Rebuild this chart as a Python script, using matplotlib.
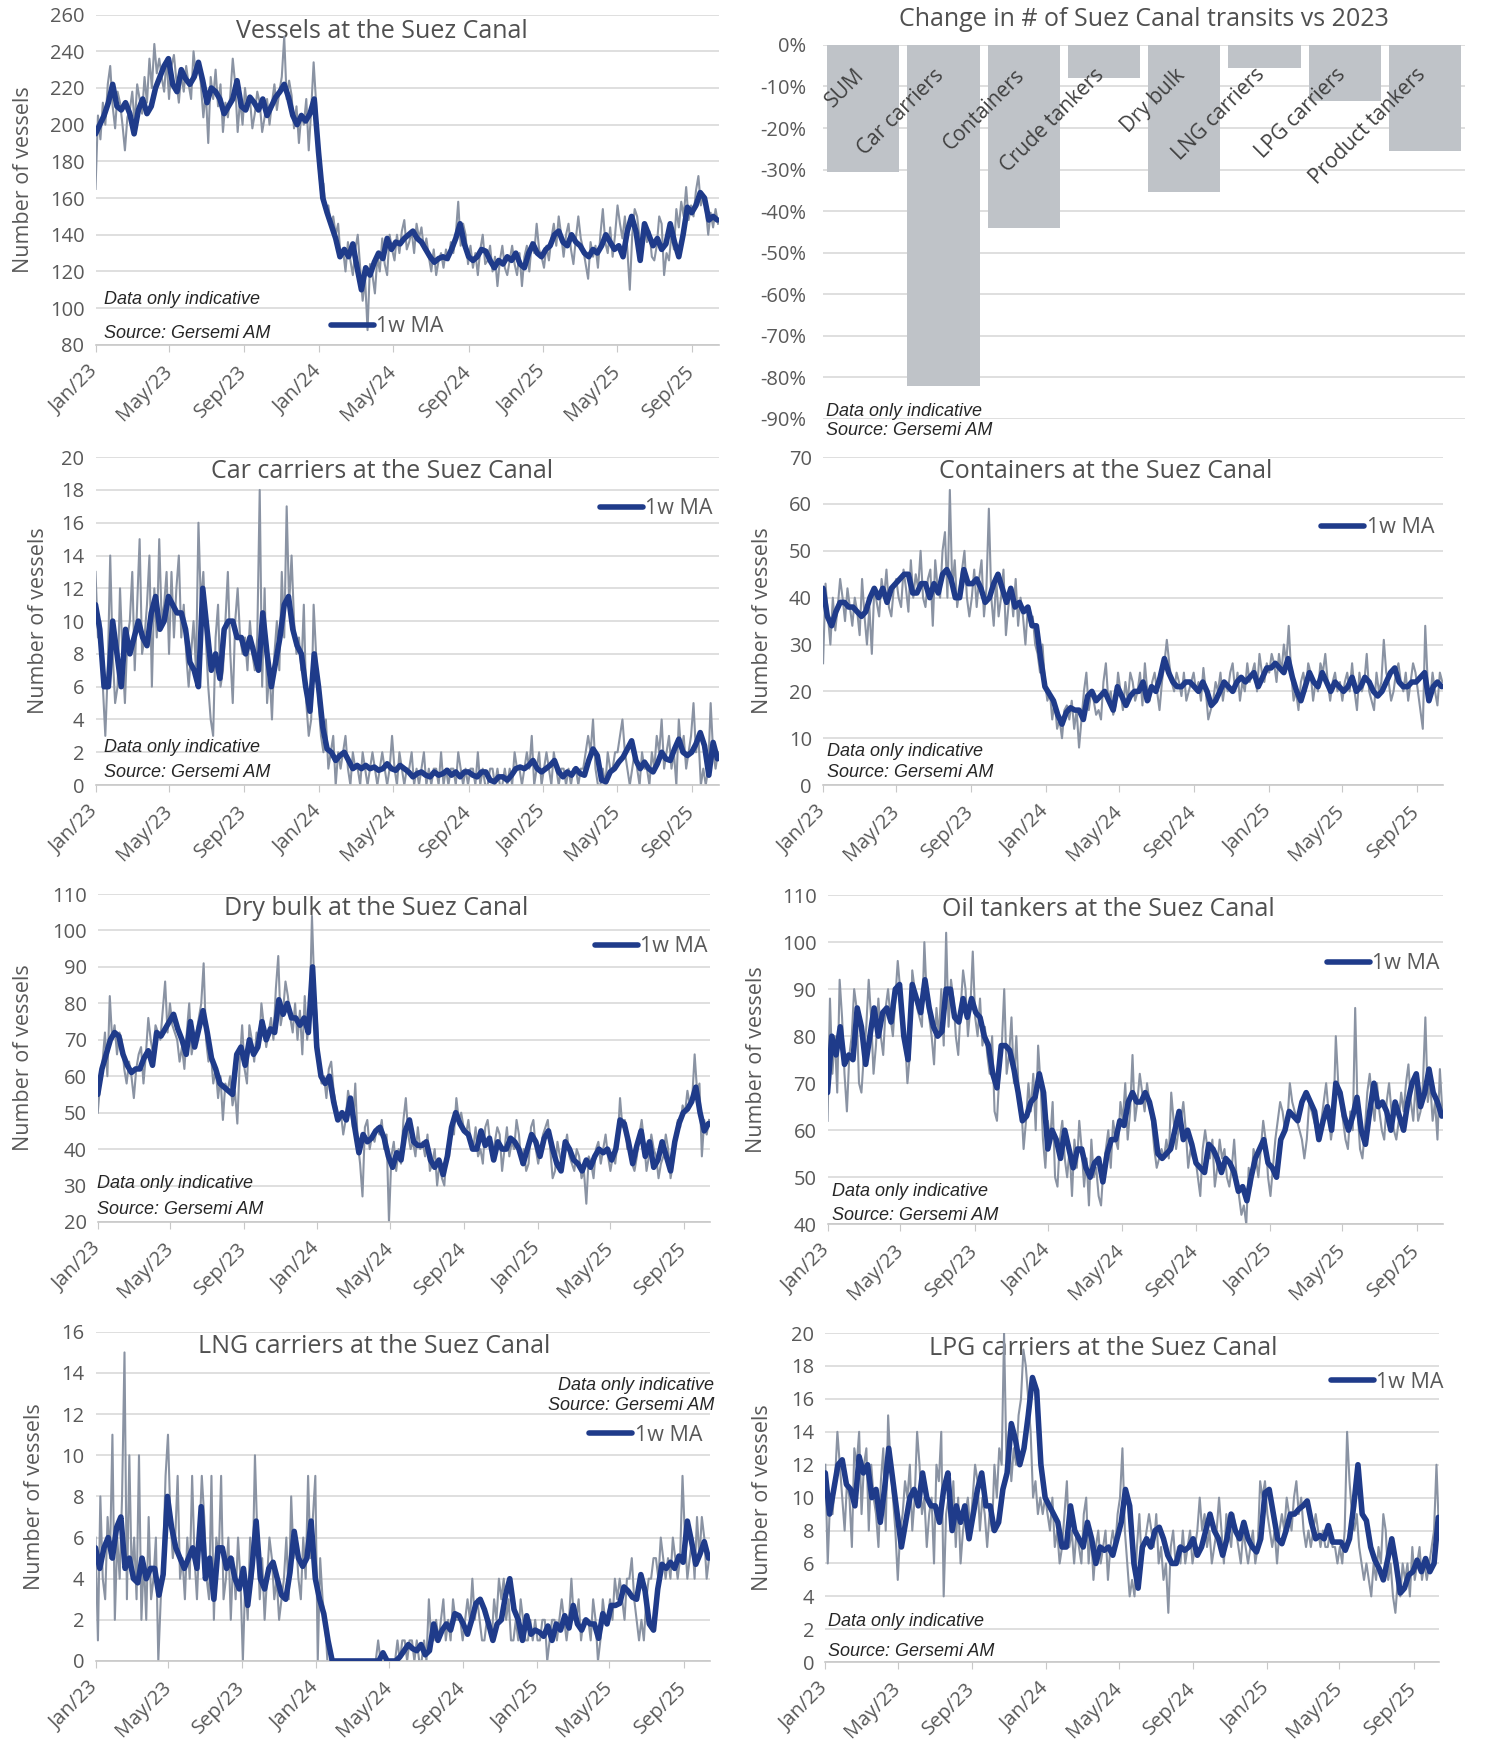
import matplotlib
matplotlib.use("Agg")
import matplotlib.pyplot as plt
import matplotlib.transforms as mtransforms
import numpy as np
import pandas as pd

plt.rcParams['font.family'] = ['Open Sans', 'DejaVu Sans']

GREY_LINE = '#8a93a3'
NAVY = '#1f3b8a'
GRID = '#d9d9d9'
TXT = '#595959'
BAR = '#bfc3c8'

# daily counts read off the charts, sampled every 4 days from 1 Jan 2023,
# and the 1w MA read off the charts once per week
START = '2023-01-01'
X_END = pd.Timestamp('2025-10-14')

tick_dates = ['2023-01-01', '2023-05-01', '2023-09-01', '2024-01-01', '2024-05-01',
              '2024-09-01', '2025-01-01', '2025-05-01', '2025-09-01']
tick_labels = ['Jan/23', 'May/23', 'Sep/23', 'Jan/24', 'May/24',
               'Sep/24', 'Jan/25', 'May/25', 'Sep/25']

vessels_all = [
    165, 205, 192, 212, 200, 222, 232, 210, 198, 218, 212, 200, 186, 204, 208, 218, 200, 222, 214, 206, 226, 212, 236, 220, 244, 228, 236, 226, 218, 236,
    214, 232, 238, 224, 212, 228, 218, 232, 222, 214, 240, 226, 234, 222, 204, 218, 190, 226, 214, 230, 210, 222, 196, 212, 204, 216, 236, 222, 196, 214, 200,
    220, 208, 214, 198, 206, 218, 212, 196, 204, 214, 200, 212, 222, 208, 218, 226, 248, 214, 224, 216, 198, 210, 190, 206, 200, 214, 186, 208, 234, 212,
    178, 164, 168, 152, 156, 146, 150, 140, 146, 128, 132, 120, 136, 126, 118, 132, 140, 122, 104, 116, 88, 124, 118, 108, 128, 120, 138, 124, 118, 140, 132,
    126, 140, 130, 142, 148, 132, 136, 142, 130, 146, 138, 144, 132, 138, 128, 120, 132, 118, 126, 130, 122, 132, 126, 136, 130, 140, 158, 134, 146, 140,
    124, 134, 122, 130, 118, 132, 140, 124, 126, 134, 120, 128, 112, 126, 134, 122, 118, 126, 134, 124, 118, 130, 112, 128, 134, 120, 136, 130, 146, 132, 128,
    122, 134, 126, 138, 146, 134, 150, 140, 128, 140, 146, 132, 124, 138, 150, 138, 132, 124, 116, 136, 128, 134, 122, 140, 154, 136, 130, 144, 128, 140,
    156, 146, 138, 150, 132, 110, 140, 154, 150, 138, 130, 144, 136, 142, 128, 126, 134, 150, 146, 118, 130, 126, 140, 132, 154, 144, 158, 150, 166, 148, 156,
    150, 164, 172, 156, 162, 154, 140, 152, 144, 154, 146,
]
vessels_all_ma = [
    195, 200, 205, 212, 222, 210, 208, 212, 206, 195, 208, 214, 206, 210, 220, 226, 232,
    236, 222, 218, 230, 225, 222, 226, 234, 224, 212, 220, 218, 214, 206, 210, 214, 224, 210,
    208, 215, 212, 208, 214, 205, 210, 215, 218, 222, 215, 205, 200, 205, 202, 206, 214,
    185, 160, 152, 145, 138, 128, 132, 128, 135, 122, 110, 122, 118, 125, 130, 127, 138,
    132, 136, 135, 138, 140, 142, 138, 136, 132, 128, 125, 127, 128, 127, 132, 138, 146, 135,
    128, 126, 128, 132, 131, 126, 122, 126, 124, 128, 126, 130, 124, 122, 130, 135, 130,
    128, 132, 134, 140, 142, 136, 134, 140, 136, 134, 130, 128, 132, 130, 134, 140, 136, 132,
    134, 128, 142, 150, 142, 126, 146, 140, 134, 138, 132, 135, 146, 136, 128, 140, 155,
    152, 156, 163, 160, 148, 150, 148,
]

car_carriers = [
    13, 9, 10, 6, 3, 7, 14, 8, 5, 6, 12, 8, 5, 9, 10, 13, 7, 11, 15, 8, 9, 11, 14, 6, 12, 9, 15, 10, 11, 13,
    8, 13, 9, 12, 14, 9, 11, 8, 6, 8, 10, 7, 16, 11, 13, 9, 6, 4, 3, 9, 11, 6, 7, 10, 13, 8, 5, 10, 12, 9, 8,
    9, 7, 10, 8, 7, 9, 18, 6, 12, 5, 7, 4, 8, 10, 7, 13, 9, 17, 11, 14, 10, 8, 9, 7, 11, 5, 3, 4, 11, 8,
    5, 3, 2, 4, 1, 2, 3, 0, 2, 1, 2, 3, 1, 0, 2, 1, 1, 0, 2, 1, 0, 1, 2, 1, 0, 1, 2, 1, 0, 1, 3,
    1, 0, 2, 1, 0, 1, 1, 2, 0, 1, 0, 1, 2, 0, 1, 0, 1, 1, 0, 2, 0, 1, 0, 1, 1, 0, 2, 1, 0, 1,
    0, 1, 1, 0, 2, 0, 1, 0, 0, 1, 1, 0, 1, 0, 0, 1, 0, 1, 0, 2, 1, 1, 0, 1, 2, 1, 3, 0, 1, 2, 0,
    1, 2, 1, 0, 2, 1, 0, 1, 1, 0, 1, 0, 1, 1, 0, 1, 1, 2, 3, 2, 4, 1, 0, 0, 1, 0, 2, 1, 1, 2,
    2, 3, 4, 2, 1, 0, 1, 2, 1, 0, 2, 1, 1, 0, 2, 1, 3, 2, 4, 1, 2, 3, 1, 2, 0, 4, 2, 3, 1, 2, 3,
    5, 2, 3, 0, 1, 0, 1, 5, 2, 1, 2,
]
car_carriers_ma = [
    11, 9.5, 6, 6, 10, 8, 6, 9.5, 8, 9, 10, 9, 8.5, 10.5, 11.5, 9.5, 10,
    11.5, 11, 10.5, 10.5, 9.5, 7.5, 7, 6, 12, 9.5, 7, 8, 6.5, 9.5, 10, 10, 9, 9,
    8, 9, 8, 7, 10.5, 8, 6, 7.5, 9, 11, 11.5, 9.5, 8.5, 8, 6, 4.5, 8,
    6, 3.5, 2.2, 2, 1.5, 1.8, 2, 1.5, 1, 1.2, 1, 1.2, 1, 1.1, 0.9, 1, 1.3,
    1, 0.9, 1.2, 1, 0.8, 0.5, 0.7, 0.8, 0.6, 0.5, 0.8, 0.6, 0.7, 0.9, 0.6, 0.8, 0.5, 0.8,
    0.8, 0.6, 0.5, 0.8, 0.8, 0.3, 0.2, 0.5, 0.5, 0.3, 0.6, 1, 1.1, 1, 1.2, 1.5, 1,
    0.8, 1, 1.2, 1.5, 0.8, 0.5, 0.8, 0.6, 1, 0.7, 0.6, 1.5, 2.2, 1.8, 0.3, 0.2, 0.8, 1,
    1.4, 1.7, 2.2, 2.7, 1.5, 1, 1.4, 1, 0.8, 1.3, 2, 1.6, 1.5, 2.2, 2.8, 2, 1.8,
    2, 2.5, 3.2, 2.4, 0.6, 2.6, 1.6,
]

containers = [
    26, 43, 36, 30, 40, 33, 38, 44, 40, 35, 42, 38, 34, 40, 37, 32, 44, 36, 30, 38, 28, 42, 39, 36, 44, 40, 46, 38, 36, 42,
    44, 40, 38, 46, 42, 37, 48, 40, 45, 42, 50, 40, 38, 44, 46, 34, 48, 42, 40, 50, 54, 40, 63, 42, 48, 38, 42, 46, 50, 40, 36,
    40, 46, 38, 44, 48, 36, 42, 59, 40, 34, 44, 36, 40, 46, 32, 38, 42, 36, 44, 34, 40, 36, 30, 38, 34, 36, 30, 28, 24, 30,
    22, 18, 20, 14, 18, 12, 14, 10, 16, 17, 14, 18, 12, 16, 8, 14, 20, 24, 16, 20, 18, 15, 16, 14, 22, 26, 18, 20, 15, 17, 24,
    20, 16, 22, 18, 24, 22, 18, 20, 24, 17, 26, 20, 18, 22, 24, 20, 16, 22, 26, 31, 26, 22, 20, 24, 22, 19, 24, 18, 20, 22,
    24, 20, 22, 18, 25, 20, 14, 16, 18, 22, 20, 24, 18, 22, 20, 24, 26, 20, 24, 18, 22, 20, 26, 22, 24, 26, 20, 28, 24, 22, 26,
    24, 28, 26, 22, 28, 24, 30, 26, 34, 24, 18, 20, 16, 22, 24, 20, 26, 24, 18, 22, 20, 26, 24, 28, 22, 18, 22, 24, 20, 22,
    18, 22, 24, 20, 26, 20, 16, 24, 20, 22, 28, 20, 18, 16, 24, 20, 22, 31, 24, 22, 18, 20, 24, 26, 22, 20, 24, 18, 22, 26, 24,
    20, 16, 12, 34, 22, 18, 24, 20, 17, 24, 22,
]
containers_ma = [
    42, 36, 34, 37, 39, 39, 38, 38, 37, 36, 37, 40, 42, 40, 42, 39, 42,
    43, 44, 45, 45, 41, 41, 43, 43, 40, 43, 41, 45, 46, 44, 40, 40, 46, 43,
    43, 44, 42, 39, 40, 43, 45, 42, 39, 42, 38, 39, 37, 38, 34, 34, 27,
    21, 19.5, 18, 15, 13, 15.5, 16.5, 16, 16, 14, 19, 20, 18, 19, 20, 18, 16,
    21, 19, 17, 19, 20, 20, 22, 18, 21, 20, 23, 27, 24, 22, 21, 21, 22, 22,
    21, 20, 22, 20, 17, 18, 20, 22, 21, 20, 22, 23, 22, 23, 24, 21, 23,
    25, 25, 26, 25, 24, 27, 23, 20, 18, 21, 24, 22, 21, 24, 22, 20, 22, 21,
    20, 21, 23, 20, 21, 23, 22, 20, 19, 20, 22, 24, 25, 22, 21, 21, 22,
    22, 23, 24, 18, 21, 22, 21,
]

dry_bulk = [
    50, 58, 64, 72, 60, 82, 70, 74, 66, 72, 70, 62, 58, 64, 60, 54, 62, 66, 68, 58, 66, 76, 70, 66, 74, 72, 70, 78, 86, 72,
    80, 74, 72, 70, 64, 68, 62, 72, 80, 66, 70, 72, 76, 80, 91, 70, 64, 66, 58, 62, 54, 60, 48, 58, 56, 60, 52, 56, 47, 64, 74,
    62, 58, 74, 70, 64, 72, 68, 80, 74, 68, 72, 76, 70, 84, 93, 74, 78, 86, 82, 76, 72, 80, 70, 78, 66, 82, 70, 76, 104, 84,
    76, 62, 58, 60, 54, 62, 64, 56, 52, 48, 50, 44, 48, 56, 52, 46, 58, 42, 36, 27, 46, 48, 40, 44, 42, 46, 44, 48, 40, 44, 20,
    38, 42, 34, 40, 36, 48, 54, 44, 40, 42, 38, 46, 40, 42, 38, 44, 34, 36, 40, 30, 36, 32, 30, 40, 38, 46, 44, 54, 48, 50,
    46, 44, 48, 42, 40, 46, 38, 40, 36, 46, 48, 42, 38, 42, 46, 44, 34, 40, 46, 38, 42, 40, 48, 44, 36, 40, 34, 36, 46, 48, 40,
    36, 40, 44, 46, 48, 40, 32, 34, 42, 38, 36, 40, 44, 38, 36, 34, 40, 38, 32, 34, 25, 38, 36, 32, 40, 42, 36, 40, 44, 38,
    34, 38, 36, 42, 54, 46, 48, 40, 42, 36, 34, 38, 44, 48, 42, 34, 38, 44, 40, 38, 32, 36, 38, 44, 40, 32, 36, 42, 48, 46, 52,
    50, 56, 52, 54, 66, 56, 58, 38, 48, 44, 48,
]
dry_bulk_ma = [
    55, 62, 66, 70, 72, 71, 66, 63, 61, 62, 62, 65, 67, 63, 72, 71, 73,
    75, 77, 73, 70, 66, 75, 68, 73, 78, 72, 65, 62, 58, 57, 56, 55, 66, 68,
    63, 70, 66, 68, 75, 70, 73, 72, 81, 77, 80, 76, 76, 74, 76, 72, 90,
    68, 60, 58, 60, 53, 48, 50, 48, 54, 46, 39, 44, 42, 43, 45, 46, 43,
    38, 35, 39, 37, 45, 48, 42, 41, 41, 42, 37, 35, 37, 33, 38, 46, 50, 47,
    45, 44, 40, 40, 45, 41, 43, 37, 42, 40, 40, 43, 42, 40, 36, 40, 44,
    42, 38, 43, 45, 40, 36, 34, 42, 40, 37, 36, 34, 37, 35, 38, 40, 39, 40,
    37, 40, 48, 47, 42, 36, 41, 45, 38, 42, 35, 37, 42, 38, 34, 42, 47,
    50, 51, 53, 57, 50, 45, 47,
]

oil_tankers = [
    62, 88, 72, 80, 68, 92, 84, 72, 64, 76, 80, 90, 86, 70, 68, 76, 82, 92, 84, 72, 78, 88, 80, 76, 86, 90, 84, 80, 88, 96,
    90, 84, 80, 70, 76, 94, 90, 86, 84, 82, 100, 88, 84, 80, 74, 86, 80, 90, 78, 102, 82, 92, 88, 80, 76, 86, 94, 90, 80, 86, 98,
    84, 80, 88, 78, 82, 76, 72, 80, 64, 62, 72, 78, 90, 72, 76, 84, 70, 80, 68, 66, 56, 62, 70, 64, 72, 60, 78, 70, 58, 52,
    62, 58, 66, 50, 48, 58, 62, 54, 50, 56, 46, 58, 52, 62, 56, 48, 54, 44, 58, 50, 52, 46, 44, 52, 56, 60, 52, 62, 58, 56, 66,
    62, 70, 58, 64, 76, 62, 66, 72, 68, 64, 70, 66, 62, 56, 52, 54, 56, 54, 58, 54, 68, 62, 56, 60, 62, 66, 60, 52, 56, 54,
    54, 50, 46, 56, 60, 56, 54, 58, 48, 52, 58, 54, 56, 50, 48, 52, 58, 50, 46, 42, 44, 40, 52, 48, 56, 54, 50, 56, 62, 58, 50,
    46, 52, 58, 62, 66, 64, 60, 62, 70, 66, 64, 62, 60, 58, 54, 58, 66, 64, 62, 60, 58, 62, 66, 70, 64, 58, 62, 80, 70, 66,
    62, 58, 56, 64, 60, 86, 64, 56, 54, 60, 68, 72, 66, 62, 70, 64, 60, 58, 66, 70, 64, 60, 58, 62, 68, 64, 70, 74, 66, 62, 70,
    62, 64, 70, 84, 66, 70, 62, 66, 58, 73, 64,
]
oil_tankers_ma = [
    68, 80, 76, 82, 74, 76, 75, 86, 82, 74, 80, 86, 80, 85, 86, 83, 90,
    91, 80, 75, 91, 88, 85, 92, 86, 82, 80, 81, 90, 90, 84, 83, 88, 84, 88,
    85, 84, 80, 78, 72, 69, 78, 78, 77, 73, 68, 62, 63, 66, 67, 72, 68,
    56, 60, 58, 54, 60, 56, 52, 56, 56, 52, 50, 53, 54, 49, 55, 58, 58,
    62, 61, 66, 68, 66, 66, 68, 66, 62, 55, 54, 55, 56, 60, 64, 58, 60, 57,
    53, 52, 51, 57, 56, 54, 51, 54, 53, 51, 47, 48, 45, 50, 54, 56, 58,
    53, 52, 50, 58, 60, 64, 63, 62, 66, 68, 66, 64, 58, 62, 65, 60, 70, 68,
    63, 60, 63, 67, 60, 57, 64, 70, 65, 66, 64, 60, 66, 63, 60, 66, 70,
    72, 65, 68, 73, 68, 66, 63,
]

lng_carriers = [
    6, 1, 8, 4, 3, 7, 5, 11, 2, 6, 4, 8, 15, 3, 10, 4, 6, 3, 10, 2, 5, 2, 7, 3, 4, 6, 0, 3, 5, 9,
    11, 7, 5, 6, 9, 4, 5, 3, 6, 4, 9, 5, 3, 6, 9, 7, 4, 3, 9, 2, 6, 5, 9, 3, 4, 6, 2, 5, 3, 6, 4,
    0, 4, 2, 6, 4, 10, 6, 3, 5, 2, 4, 6, 5, 3, 4, 2, 3, 4, 6, 3, 8, 5, 6, 4, 3, 6, 4, 9, 5, 7,
    9, 0, 5, 3, 2, 0, 0, 0, 0, 0, 0, 0, 0, 0, 0, 0, 0, 0, 0, 0, 0, 0, 0, 0, 0, 0, 1, 0, 0, 0, 0,
    0, 0, 0, 1, 0, 1, 1, 0, 1, 1, 0, 1, 0, 0, 1, 0, 3, 1, 1, 2, 1, 2, 3, 1, 2, 1, 3, 2, 2, 2,
    1, 2, 3, 2, 4, 2, 3, 2, 1, 1, 2, 2, 1, 3, 2, 4, 3, 4, 2, 3, 1, 1, 2, 1, 3, 2, 1, 1, 2, 1, 2,
    1, 1, 2, 2, 0, 1, 2, 2, 1, 2, 3, 2, 1, 2, 4, 2, 2, 3, 1, 2, 2, 2, 1, 3, 2, 0, 1, 3, 2, 2,
    3, 2, 4, 3, 4, 3, 2, 4, 4, 5, 3, 2, 1, 2, 1, 3, 4, 4, 5, 5, 4, 6, 5, 4, 5, 4, 6, 5, 4, 5, 9,
    6, 4, 5, 6, 4, 7, 5, 7, 6, 4, 5,
]
lng_carriers_ma = [
    5.5, 4.5, 5.5, 6, 5, 6.5, 7, 4.5, 5, 4, 3.8, 5, 4, 4.5, 4.5, 3.2, 4.2,
    8, 6.5, 5.5, 5, 4.5, 5, 5.5, 4.5, 7.5, 4, 5, 3, 5.5, 5.5, 4.5, 5, 4, 3.5,
    4.5, 2.7, 4.5, 6.8, 4, 3.5, 4.5, 4.8, 4, 3.2, 3, 4.3, 6.3, 5, 4.6, 5, 6.8,
    4, 3, 2.3, 1, 0, 0, 0, 0, 0, 0, 0, 0, 0, 0, 0, 0, 0.4,
    0, 0, 0, 0.2, 0.5, 0.8, 0.6, 0.5, 0.8, 0.3, 0.5, 1.8, 1, 1.5, 1.8, 1.5, 2.3, 2.2,
    1.8, 1.3, 2, 2.8, 3, 2.5, 1.8, 1, 1.8, 2, 3.2, 4, 2.5, 2, 1, 2.2, 1.3,
    1.5, 1.4, 1.2, 1.7, 1, 1.8, 1.5, 2.2, 1.6, 2.7, 1.8, 1.5, 2, 1.8, 1.8, 1.1, 2.3, 1.8,
    2.7, 2.7, 2.8, 3.6, 3.4, 3.1, 3, 4.2, 3.4, 1.8, 1.5, 3.5, 4.7, 4.5, 4.8, 4.5, 5.1,
    4.8, 6.8, 5.8, 4.7, 5.2, 5.8, 5,
]

lpg_carriers = [
    12, 6, 10, 9, 11, 14, 12, 10, 8, 11, 10, 7, 13, 12, 14, 9, 12, 13, 8, 12, 10, 9, 7, 11, 13, 8, 15, 12, 10, 8,
    5, 8, 9, 11, 10, 12, 8, 10, 14, 12, 9, 10, 7, 9, 10, 6, 12, 11, 14, 4, 9, 10, 8, 11, 7, 10, 6, 8, 9, 10, 8,
    10, 12, 11, 8, 10, 9, 7, 9, 8, 12, 10, 13, 12, 20, 12, 14, 11, 13, 12, 15, 16, 19, 18, 16, 14, 10, 11, 9, 10, 9,
    10, 9, 8, 10, 7, 8, 6, 7, 9, 11, 7, 8, 6, 8, 7, 6, 9, 10, 6, 8, 5, 7, 8, 6, 7, 8, 5, 7, 8, 7, 9,
    10, 13, 8, 6, 4, 5, 4, 7, 9, 6, 7, 8, 9, 8, 7, 9, 6, 7, 5, 6, 3, 7, 8, 6, 7, 6, 8, 6, 7, 8,
    6, 7, 8, 10, 8, 9, 7, 8, 6, 7, 8, 10, 8, 6, 9, 8, 7, 9, 8, 7, 6, 8, 7, 6, 7, 8, 6, 7, 11, 10, 11,
    9, 8, 7, 8, 6, 8, 9, 8, 10, 9, 8, 10, 11, 9, 10, 8, 7, 8, 7, 8, 9, 8, 7, 8, 7, 7, 8, 7, 7, 6,
    7, 6, 8, 14, 11, 9, 8, 9, 7, 6, 5, 6, 5, 4, 6, 5, 7, 6, 9, 8, 5, 6, 4, 3, 5, 4, 6, 5, 6, 4, 7,
    5, 6, 7, 5, 6, 5, 6, 7, 8, 12, 8,
]
lpg_carriers_ma = [
    11.5, 9, 10.5, 12, 12.3, 10.8, 10.5, 9.5, 12.5, 11.5, 12, 10, 10.5, 8.5, 10.5, 13, 11,
    9, 7, 8.5, 10, 10.5, 9.5, 11.5, 10, 9.5, 9.5, 8.5, 10.5, 11.5, 8, 9.5, 8.5, 9.5, 7.5,
    9, 10.5, 11.5, 9.5, 9.5, 8, 8.5, 10.5, 11.5, 14.5, 13.5, 12, 13, 15, 17.3, 16.5, 12,
    10, 9.5, 9, 8.5, 7, 7, 9.5, 8, 7.5, 7, 8.5, 7.5, 6, 7, 6.8, 7, 6.5,
    7.5, 8.5, 10.5, 9.5, 6, 4.5, 7, 7.5, 7, 8, 8.2, 7.5, 6.5, 6, 6, 7, 6.8, 7,
    7.5, 6.5, 7, 8, 9, 8, 7.5, 6.5, 7.5, 9, 8, 7.5, 8.5, 7.5, 7, 6.7, 7.5,
    10.3, 10.5, 9, 7.5, 7.2, 8, 9, 9, 9.3, 9.5, 9.8, 8.5, 7.5, 7.7, 7.5, 8.3, 7.3, 7.3,
    7.3, 6.8, 7.5, 9.5, 12, 9, 8.6, 7, 6.2, 5.7, 5, 6.2, 7.5, 6, 4.2, 4.5, 5.3,
    5.5, 6.2, 5.5, 6.3, 5.5, 6, 8.8,
]

bar_categories = ['SUM', 'Car carriers', 'Containers', 'Crude tankers', 'Dry bulk',
                  'LNG carriers', 'LPG carriers', 'Product tankers']
bar_values = [-30.5, -82, -44, -8, -35.5, -5.5, -13.5, -25.5]


fig = plt.figure(figsize=(14.9, 17.61), dpi=100)
label_shift = mtransforms.ScaledTranslation(3 / 72, 0, fig.dpi_scale_trans)


def note(ax, x, y, text, ha='left'):
    ax.text(x, y, text, transform=ax.transAxes, ha=ha, va='center', fontsize=13,
            style='italic', family='Liberation Sans', color='#262626', zorder=6, clip_on=False)


def ts_panel(rect, values, ma, title, ylim, ystep, title_pos, leg_pos, notes, ylab_x):
    ax = fig.add_axes(rect)
    days = pd.date_range(START, periods=len(values), freq='4D')
    weeks = pd.date_range(START, periods=len(ma), freq='7D')
    ax.plot(days, values, color=GREY_LINE, lw=1.5, zorder=2, label='_nolegend_')
    ax.plot(weeks, ma, color=NAVY, lw=4.0, zorder=3, label='1w MA',
            solid_joinstyle='round', solid_capstyle='round')
    ax.set_xlim(pd.Timestamp(START), X_END)
    ax.set_ylim(*ylim)
    ax.set_yticks(np.arange(ylim[0], ylim[1] + ystep / 2, ystep))
    ax.grid(axis='y', color=GRID, lw=1.2, zorder=0)
    ax.set_axisbelow(True)
    for side in ['top', 'right', 'left']:
        ax.spines[side].set_visible(False)
    ax.spines['bottom'].set_color('#c8c8c8')
    ax.spines['bottom'].set_linewidth(1.2)
    ax.set_xticks(pd.to_datetime(tick_dates))
    ax.set_xticklabels(tick_labels, rotation=45, ha='right', va='center',
                       rotation_mode='anchor')
    for lab in ax.get_xticklabels():
        lab.set_transform(lab.get_transform() + label_shift)
    ax.tick_params(axis='x', length=5, color='#c8c8c8', pad=12, labelsize=14.5,
                   labelcolor=TXT)
    ax.tick_params(axis='y', length=0, pad=8, labelsize=14.5, labelcolor=TXT)
    ax.set_ylabel('Number of vessels', fontsize=15.5, color=TXT)
    ax.yaxis.set_label_coords(ylab_x, 0.5)
    ax.text(title_pos[0], title_pos[1], title, transform=ax.transAxes, ha='center',
            va='center', fontsize=18, color='#505050', zorder=1)
    leg = ax.legend(loc='center left', bbox_to_anchor=leg_pos, frameon=False, fontsize=15.5,
                    handlelength=2.0, handletextpad=0.1, borderpad=0, borderaxespad=0)
    for t in leg.get_texts():
        t.set_color(TXT)
    for (x, y, text, ha) in notes:
        note(ax, x, y, text, ha)
    return ax


NOTE1 = 'Data only indicative'
NOTE2 = 'Source: Gersemi AM'

# top left: all vessels
ts_panel([0.0641, 0.8042, 0.4182, 0.1875], vessels_all, vessels_all_ma,
         'Vessels at the Suez Canal', (80, 260), 20, (0.46, 0.949), (0.378, 0.054),
         [(0.013, 0.136, NOTE1, 'left'), (0.013, 0.034, NOTE2, 'left')], -0.098)

# top right: change vs 2023
axb = fig.add_axes([0.5524, 0.7621, 0.431, 0.2124])
xb = np.arange(len(bar_categories))
axb.bar(xb, bar_values, width=0.9, color=BAR, zorder=2)
axb.set_xlim(-0.5, len(xb) - 0.5)
axb.set_ylim(-90, 0)
yt = np.arange(-90, 1, 10)
axb.set_yticks(yt)
axb.set_yticklabels([f'{v}%' for v in yt])
axb.set_xticks([])
axb.grid(axis='y', color=GRID, lw=1.2, zorder=0)
axb.set_axisbelow(True)
for sp in axb.spines.values():
    sp.set_visible(False)
axb.tick_params(axis='y', length=0, pad=12, labelsize=14.5, labelcolor=TXT)
for xi, lab in zip(xb, bar_categories):
    axb.text(xi - 0.03, -6.5, lab, rotation=45, ha='right', va='center',
             rotation_mode='anchor', fontsize=15, color='#404040', zorder=3)
axb.text(0.5, 1.069, 'Change in # of Suez Canal transits vs 2023', transform=axb.transAxes,
         ha='center', va='center', fontsize=18, color='#505050')
note(axb, 0.005, 0.021, NOTE1)
note(axb, 0.005, -0.03, NOTE2)

ts_panel([0.0641, 0.5542, 0.4182, 0.1862], car_carriers, car_carriers_ma,
         'Car carriers at the Suez Canal', (0, 20), 2, (0.46, 0.955), (0.81, 0.842),
         [(0.013, 0.116, NOTE1, 'left'), (0.013, 0.038, NOTE2, 'left')], -0.075)

ts_panel([0.5524, 0.5542, 0.416, 0.1862], containers, containers_ma,
         'Containers at the Suez Canal', (0, 70), 10, (0.456, 0.955), (0.804, 0.784),
         [(0.007, 0.103, NOTE1, 'left'), (0.007, 0.038, NOTE2, 'left')], -0.081)

ts_panel([0.0656, 0.3061, 0.4107, 0.1862], dry_bulk, dry_bulk_ma,
         'Dry bulk at the Suez Canal', (20, 110), 10, (0.455, 0.955), (0.813, 0.839),
         [(-0.002, 0.116, NOTE1, 'left'), (-0.002, 0.038, NOTE2, 'left')], -0.104)

ts_panel([0.5554, 0.3048, 0.413, 0.1869], oil_tankers, oil_tankers_ma,
         'Oil tankers at the Suez Canal', (40, 110), 10, (0.456, 0.956), (0.812, 0.792),
         [(0.007, 0.099, NOTE1, 'left'), (0.007, 0.027, NOTE2, 'left')], -0.098)

ts_panel([0.0641, 0.0568, 0.4122, 0.1869], lng_carriers, lng_carriers_ma,
         'LNG carriers at the Suez Canal', (0, 16), 2, (0.453, 0.956), (0.804, 0.686),
         [(1.007, 0.836, NOTE1, 'right'), (1.007, 0.775, NOTE2, 'right')], -0.082)

ts_panel([0.5539, 0.0561, 0.4122, 0.1869], lpg_carriers, lpg_carriers_ma,
         'LPG carriers at the Suez Canal', (0, 20), 2, (0.453, 0.952), (0.823, 0.85),
         [(0.004, 0.123, NOTE1, 'left'), (0.004, 0.034, NOTE2, 'left')], -0.085)

fig.savefig('out.png', dpi=100, facecolor='white')
